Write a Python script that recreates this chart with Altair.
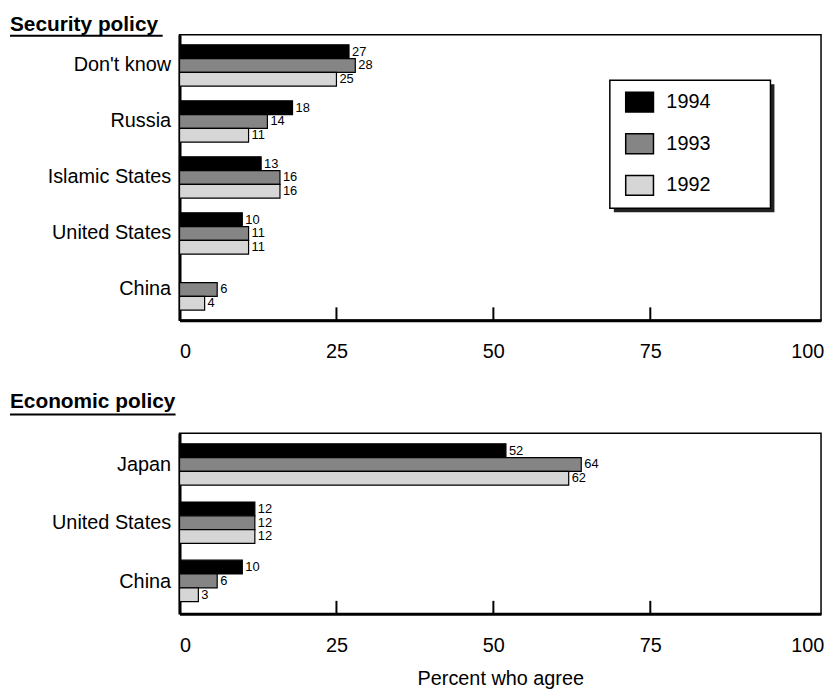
import altair as alt
import pandas as pd

FONT = "Liberation Sans"

years = ["1994", "1993", "1992"]
colors = ["#000000", "#858585", "#d6d6d6"]

sec_cats = ["Don't know", "Russia", "Islamic States", "United States", "China"]
sec_1994 = [27, 18, 13, 10, None]
sec_1993 = [28, 14, 16, 11, 6]
sec_1992 = [25, 11, 16, 11, 4]

eco_cats = ["Japan", "United States", "China"]
eco_1994 = [52, 12, 10]
eco_1993 = [64, 12, 6]
eco_1992 = [62, 12, 3]

x_ticks = [0, 25, 50, 75, 100]
inner_ticks = [25, 50, 75]


def long(cats, a, b, c):
    rows = []
    for cat, v4, v3, v2 in zip(cats, a, b, c):
        for yr, v in zip(years, (v4, v3, v2)):
            if v is not None:
                rows.append({"cat": cat, "year": yr, "value": v})
    return pd.DataFrame(rows)


def panel(df, cats, title, height, title_y, ul_y, ul_x2, show_legend, xtitle):
    base = alt.Chart(df)
    y = alt.Y("cat:N", sort=cats,
              scale=alt.Scale(domain=cats, paddingInner=0.26, paddingOuter=0.18),
              axis=alt.Axis(title=None, labelFontSize=20, labelFont=FONT,
                            labelColor="black", labelPadding=9, ticks=False,
                            domainWidth=3, domainColor="black", grid=False))
    yo = alt.YOffset("year:N", sort=years,
                     scale=alt.Scale(domain=years, paddingInner=0, paddingOuter=0))
    if xtitle:
        xaxis = alt.Axis(values=x_ticks, labelFontSize=20, labelFont=FONT,
                         labelColor="black", labelPadding=22, ticks=False,
                         domainWidth=3, domainColor="black", grid=False,
                         title=xtitle,
                         titleFont=FONT, titleFontSize=20, titleFontWeight="normal",
                         titleColor="black", titlePadding=13)
    else:
        xaxis = alt.Axis(values=x_ticks, labelFontSize=20, labelFont=FONT,
                         labelColor="black", labelPadding=22, ticks=False,
                         domainWidth=3, domainColor="black", grid=False, title=None)
    x = alt.X("value:Q", scale=alt.Scale(domain=[0, 102.2], nice=False, zero=True), axis=xaxis)

    if show_legend:
        leg = alt.Legend(title=None, orient="none", legendX=453, legendY=57,
                         symbolType="M-1.4,-1L1.4,-1L1.4,1L-1.4,1Z", symbolSize=400,
                         symbolStrokeColor="black", symbolStrokeWidth=1.5,
                         symbolOpacity=1, labelFontSize=20, labelFont=FONT,
                         labelColor="black", labelOffset=16, rowPadding=16, padding=0)
    else:
        leg = None
    color = alt.Color("year:N", scale=alt.Scale(domain=years, range=colors),
                      legend=leg)

    bars = base.mark_bar(stroke="black", strokeWidth=1.2).encode(
        x=x, y=y, yOffset=yo, color=color)
    labels = base.mark_text(align="left", baseline="middle", dx=3, fontSize=13,
                            font=FONT, color="black").encode(
        x=x, y=y, yOffset=yo, text="value:Q")
    ticks = alt.Chart(pd.DataFrame({"value": inner_ticks})).mark_rule(
        color="black", strokeWidth=2).encode(
        x=alt.X("value:Q"), y=alt.value(height), y2=alt.value(height - 13))
    ttl = alt.Chart(pd.DataFrame({"t": [title]})).mark_text(
        align="left", baseline="alphabetic", fontSize=21, fontWeight="bold",
        font=FONT, color="black").encode(
        x=alt.value(-171), y=alt.value(title_y), text="t:N")
    ul = alt.Chart(pd.DataFrame({"t": [0]})).mark_rule(
        color="black", strokeWidth=2).encode(
        x=alt.value(-171), x2=alt.value(ul_x2), y=alt.value(ul_y))
    layers = [bars, labels, ticks]
    if show_legend:
        shadow = alt.Chart(pd.DataFrame({"t": [0]})).mark_rect(
            fill="#222222").encode(
            x=alt.value(438), x2=alt.value(600), y=alt.value(50), y2=alt.value(179))
        box = alt.Chart(pd.DataFrame({"t": [0]})).mark_rect(
            fill="white", stroke="black", strokeWidth=1.5).encode(
            x=alt.value(434), x2=alt.value(596), y=alt.value(46), y2=alt.value(175))
        layers += [shadow, box]
    layers += [ttl, ul]
    return alt.layer(*layers).properties(width=647, height=height)


top = panel(long(sec_cats, sec_1994, sec_1993, sec_1992), sec_cats,
            "Security policy", 288, -3.5, 1, -17, True, None)
bottom = panel(long(eco_cats, eco_1994, eco_1993, eco_1992), eco_cats,
               "Economic policy", 182, -25, -19, -4, False, "Percent who agree")

chart = alt.vconcat(top, bottom, spacing=28).resolve_scale(
    color="independent", x="independent", y="independent"
).resolve_legend(color="independent").properties(
    padding={"left": 0, "top": 2, "right": 0, "bottom": 0}
).configure_view(stroke="black", strokeWidth=1.5)

chart.save("out.html", embed_options={"renderer": "svg", "actions": False})
